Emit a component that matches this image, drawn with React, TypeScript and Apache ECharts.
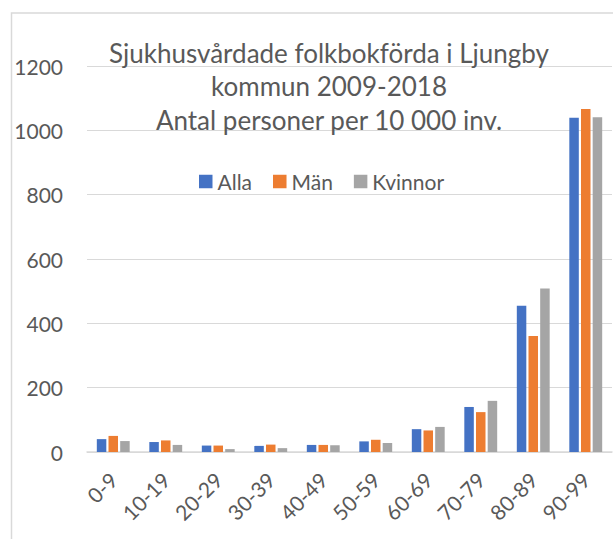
import React, { useEffect, useRef } from "react";
import * as echarts from "echarts";

const categories = ["0-9", "10-19", "20-29", "30-39", "40-49", "50-59", "60-69", "70-79", "80-89", "90-99"];
const alla = [40, 31, 20, 19, 22, 33, 71, 140, 455, 1039];
const man = [50, 36, 20, 23, 22, 38, 67, 124, 361, 1066];
const kvinnor = [34, 22, 9, 12, 21, 28, 78, 159, 508, 1041];
const seriesNames = ["Alla", "Män", "Kvinnor"];
const colors = ["#4472C4", "#ED7D31", "#A5A5A5"];
const titleText = "Sjukhusvårdade folkbokförda i Ljungby\nkommun 2009-2018\nAntal personer per 10 000 inv.";

const FONT = "Lato";

export default function App() {
  const ref = useRef<HTMLDivElement>(null);
  useEffect(() => {
    const chart = echarts.init(ref.current!, null, { renderer: "svg" });
    const data = [alla, man, kvinnor];
    chart.setOption({
      animation: false,
      textStyle: { fontFamily: FONT },
      title: {
        text: titleText,
        left: 324,
        top: 31,
        textAlign: "center",
        textStyle: { fontFamily: FONT, fontSize: 26, fontWeight: "normal", color: "#595959", lineHeight: 33.5 },
      },
      legend: {
        data: seriesNames,
        left: 194,
        top: 166,
        itemWidth: 13.5,
        itemHeight: 13.5,
        itemGap: 21,
        icon: "rect",
        textStyle: { fontFamily: FONT, fontSize: 21, color: "#595959" },
      },
      graphic: [
        {
          type: "rect",
          shape: { x: 11.5, y: 13, width: 640, height: 560 },
          style: { fill: "none", stroke: "#D9D9D9", lineWidth: 1.5 },
          z: -10,
        },
      ],
      grid: { left: 87, right: 1, top: 66, bottom: 87, containLabel: false },
      xAxis: {
        type: "category",
        data: categories,
        axisTick: { show: false },
        axisLine: { lineStyle: { color: "#D9D9D9", width: 1.5 } },
        axisLabel: { rotate: 45, fontSize: 21, color: "#595959", fontFamily: FONT, margin: 24 },
      },
      yAxis: {
        type: "value",
        min: 0,
        max: 1200,
        interval: 200,
        axisLine: { show: false },
        axisTick: { show: false },
        splitLine: { lineStyle: { color: "#D9D9D9", width: 1.2 } },
        axisLabel: { fontSize: 21, color: "#595959", fontFamily: FONT, margin: 24, formatter: (v: number) => String(v) },
      },
      series: seriesNames.map((name, i) => ({
        name,
        type: "bar",
        data: data[i],
        barWidth: 9.5,
        barGap: "23%",
        itemStyle: { color: colors[i] },
      })),
    });
    return () => chart.dispose();
  }, []);
  return <div ref={ref} style={{ position: "fixed", left: 0, top: 0, width: 613, height: 539, background: "#fff" }} />;
}
